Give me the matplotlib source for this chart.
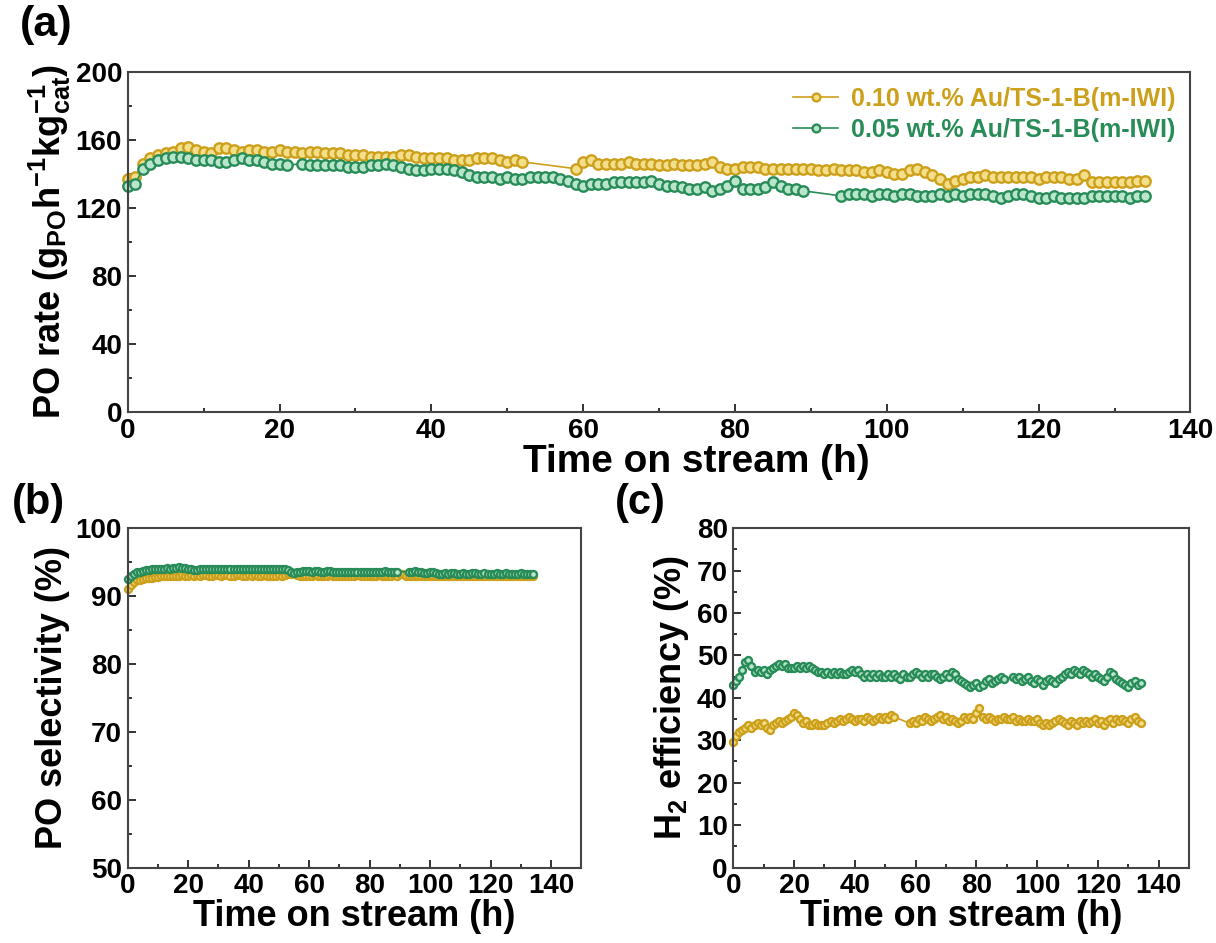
import matplotlib
matplotlib.use('agg')
import matplotlib.pyplot as plt
from matplotlib.ticker import MultipleLocator

plt.rcParams['font.family'] = ['Liberation Sans', 'DejaVu Sans']
plt.rcParams['font.weight'] = 'bold'
plt.rcParams['mathtext.fontset'] = 'custom'
plt.rcParams['mathtext.rm'] = 'Liberation Sans:bold'
plt.rcParams['mathtext.it'] = 'Liberation Sans:bold'
plt.rcParams['mathtext.bf'] = 'Liberation Sans:bold'

GOLD = '#CDA01C'
GOLD_FACE = '#F3DE8A'
GREEN = '#288C58'
GREEN_FACE = '#B9E6CB'

labels = ['0.10 wt.% Au/TS-1-B(m-IWI)', '0.05 wt.% Au/TS-1-B(m-IWI)']

# (a) PO rate, each segment: (start hour, values every hour)
rate_gold = [
    (0, [137, 138, 146, 149, 151, 152, 153, 155, 156, 154,
         153, 152, 155, 155, 154, 153, 154, 154, 153, 153,
         154, 153, 153, 152, 153, 153, 152, 152, 152, 151,
         151, 151, 150, 150, 150, 150, 151, 151, 150, 149,
         149, 149, 149, 148, 148, 148, 149, 149, 149, 148,
         147, 148, 147]),
    (59, [143, 147, 148, 146, 146, 146, 146, 147, 146, 146,
          146, 145, 145, 146, 145, 145, 145, 146, 147, 144,
          143, 143, 144, 144, 144, 143, 143, 143, 143, 143,
          143, 143, 142, 142, 143, 142, 142, 142, 141, 141,
          142, 141, 140, 140, 142, 143, 141, 139, 137, 134,
          136, 137, 138, 138, 139, 138, 138, 138, 138, 138,
          138, 137, 138, 138, 138, 137, 137, 139, 135, 135,
          135, 135, 135, 135, 136, 136]),
]
rate_green = [
    (0, [133, 134, 143, 146, 148, 149, 150, 150, 149, 148,
         148, 148, 147, 147, 148, 149, 148, 148, 147, 146,
         146, 145]),
    (23, [146, 145, 145, 145, 145, 145, 144, 144, 144, 145,
          145, 146, 145, 144, 143, 142, 142, 143, 143, 143,
          142, 141, 139, 138, 138, 138, 137, 138, 137, 137,
          138, 138, 138, 138, 137, 136, 134, 133, 134, 134,
          134, 135, 135, 135, 135, 135, 136, 134, 133, 133,
          132, 131, 131, 132, 130, 131, 133, 136, 131, 131,
          131, 132, 135, 133, 131, 131, 130]),
    (94, [127, 128, 128, 128, 127, 128, 128, 127, 128, 128,
          127, 127, 127, 128, 127, 128, 127, 128, 128, 128,
          127, 126, 127, 128, 128, 127, 126, 126, 127, 126,
          126, 126, 126, 127, 127, 127, 127, 127, 126, 127,
          127]),
]

# (b) PO selectivity
sel_gold = [
    (0, [91.0, 91.6, 92.0, 92.3, 92.4, 92.5, 92.6, 92.7, 92.7, 92.8,
         92.8, 92.9, 92.9, 92.9, 93.0, 93.0, 92.9, 93.0, 93.1, 93.0,
         93.0, 93.1, 93.0, 93.1, 93.0, 93.1, 93.1, 93.0, 93.0, 93.1,
         93.1, 93.0, 93.1, 93.1, 93.0, 93.0, 93.1, 93.1, 93.0, 93.0,
         93.1, 93.0, 93.1, 93.0, 93.0, 93.1, 93.0, 92.9, 93.0, 93.0,
         93.1, 93.0, 93.1, 93.2, 93.3, 93.4, 93.1, 92.9, 93.0, 93.0,
         93.0, 93.0, 93.1, 93.0, 92.9, 93.0, 93.0, 93.1, 93.0, 92.9,
         93.0, 93.0, 92.9, 93.0, 93.0, 93.0, 93.1, 93.0, 93.0, 92.9,
         93.0, 93.0, 93.0, 93.1, 93.0, 93.0, 93.0, 93.0, 93.1, 93.0,
         93.2, 93.3, 93.0, 92.9, 93.0, 93.0, 92.9, 93.0, 93.0, 92.9,
         93.0, 93.0, 92.9, 93.0, 92.9, 93.0, 93.0, 93.0, 92.9, 93.0,
         93.0, 92.9, 93.0, 93.0, 93.0, 92.9, 93.0, 93.0, 92.9, 93.0,
         93.0, 92.9, 93.0, 93.0, 93.0, 93.0, 92.9, 93.0, 93.0, 93.0,
         93.0, 92.9, 93.0, 93.0, 93.0]),
]
sel_green = [
    (0, [92.5, 93.0, 93.3, 93.5, 93.6, 93.7, 93.8, 93.8, 93.9, 93.9,
         94.0, 94.0, 94.0, 94.1, 94.0, 94.1, 94.1, 94.2, 94.1, 94.1,
         94.0, 93.9, 93.8, 93.8, 93.9, 93.9, 93.9, 94.0, 94.0, 93.9,
         94.0, 94.0, 94.0, 93.9, 94.0, 94.0, 94.0, 93.9, 94.0, 94.0,
         94.0, 93.9, 94.0, 94.0, 93.9, 94.0, 94.0, 94.0, 93.9, 94.0,
         94.0, 93.9, 93.9, 93.8, 93.6, 93.4, 93.5, 93.6, 93.7, 93.7,
         93.7, 93.6, 93.7, 93.7, 93.6, 93.6, 93.7, 93.7, 93.6, 93.6,
         93.6, 93.5, 93.6, 93.6, 93.5, 93.6, 93.6, 93.6, 93.5, 93.6,
         93.6, 93.6, 93.6, 93.6, 93.6, 93.7, 93.6, 93.6, 93.6, 93.6]),
    (93, [93.5, 93.6, 93.7, 93.6, 93.5, 93.4, 93.4, 93.5, 93.5, 93.4,
          93.3, 93.3, 93.4, 93.3, 93.4, 93.4, 93.3, 93.3, 93.4, 93.3,
          93.3, 93.4, 93.4, 93.3, 93.3, 93.4, 93.3, 93.3, 93.3, 93.4,
          93.3, 93.3, 93.4, 93.3, 93.3, 93.3, 93.3, 93.4, 93.3, 93.3,
          93.3, 93.2]),
]

# (c) H2 efficiency
eff_gold = [
    (0, [29.5, 31.0, 32.0, 32.5, 33.0, 33.5, 33.0, 33.5, 34.0, 33.5,
         34.0, 33.0, 32.5, 33.5, 34.0, 34.5, 34.0, 34.5, 35.0, 35.5,
         36.5, 36.0, 35.0, 34.0, 34.5, 33.5, 33.5, 34.0, 33.5, 33.5,
         33.5, 34.0, 34.5, 34.0, 34.5, 35.0, 34.5, 35.0, 35.5, 35.0,
         34.5, 35.0, 35.0, 34.5, 35.5, 35.0, 34.5, 35.0, 35.5, 35.0,
         35.5, 35.0, 36.0, 35.5]),
    (58, [34.0, 34.5, 34.0, 35.0, 34.5, 35.5, 35.0, 34.5, 35.0, 35.5,
          36.0, 35.0, 35.5, 34.5, 35.0, 34.5, 34.0, 34.5, 35.5, 35.0,
          35.5, 35.0, 36.5, 37.5, 35.5, 35.0, 35.5, 35.0, 34.5, 35.0,
          35.0, 35.5, 35.0, 35.0, 35.5, 34.5, 35.0, 34.5, 34.5, 35.0,
          34.5, 34.5, 35.0, 34.0, 33.5, 34.0, 33.5, 34.0, 34.5, 35.0,
          34.5, 34.0, 33.5, 34.5, 34.0, 33.5, 34.5, 34.0, 34.5, 34.0,
          34.5, 35.0, 34.0, 34.5, 33.5, 34.5, 35.0, 34.0, 35.0, 34.5,
          35.0, 34.5, 34.0, 35.0, 35.5, 34.5, 34.0]),
]
eff_green = [
    (0, [43.0, 44.0, 45.0, 46.5, 48.5, 49.0, 47.5, 46.0, 46.5, 46.0,
         46.5, 45.5, 46.5, 47.0, 47.5, 48.0, 47.5, 48.0, 47.0, 47.0,
         47.0, 47.5, 47.0, 47.5, 47.0, 47.5, 47.0, 46.5, 46.0, 46.0,
         45.5, 46.0, 45.5, 46.0, 45.5, 46.0, 45.5, 45.5, 46.0, 46.5,
         46.0, 46.5, 45.5, 45.0, 45.5, 45.0, 45.5, 45.0, 45.5, 45.0,
         45.0, 45.5, 45.0, 45.5, 45.0, 44.5, 45.5, 45.0, 45.0, 45.5,
         46.0, 45.5, 45.0, 45.5, 45.0, 45.5, 45.5, 45.0, 44.5, 45.0,
         45.5, 45.0, 46.0, 45.5, 44.5, 44.0, 43.5, 43.0, 42.5, 43.0,
         43.5, 42.5, 43.0, 44.0, 44.5, 43.5, 44.0, 44.5, 45.0, 44.5]),
    (92, [45.0, 44.5, 45.0, 44.0, 44.5, 45.0, 44.0, 43.5, 44.5, 44.0,
          43.0, 44.0, 44.5, 44.0, 43.5, 44.5, 45.0, 45.5, 46.0, 45.5,
          46.5, 46.0, 45.5, 46.5, 46.0, 45.5, 45.0, 45.5, 45.0, 44.5,
          44.0, 45.0, 46.0, 45.5, 44.5, 44.0, 43.5, 43.0, 42.5, 43.5,
          44.0, 43.0, 43.5]),
]


def unpack(segments):
    t, v = [], []
    for start, vals in segments:
        t += list(range(start, start + len(vals)))
        v += vals
    return t, v


def style_axis(ax, xlim, xmaj, ylim, ymaj, yminor, size):
    ax.set_xlim(*xlim)
    ax.set_ylim(*ylim)
    ax.xaxis.set_major_locator(MultipleLocator(xmaj))
    ax.xaxis.set_minor_locator(MultipleLocator(10))
    ax.yaxis.set_major_locator(MultipleLocator(ymaj))
    ax.yaxis.set_minor_locator(MultipleLocator(yminor))
    ax.tick_params(which='both', direction='in', top=False, right=False,
                   labelsize=size, width=1.3, colors='#222222')
    ax.tick_params(which='major', length=6, pad=4)
    ax.tick_params(which='minor', length=3)
    for lab in ax.get_xticklabels() + ax.get_yticklabels():
        lab.set_fontweight('bold')
        lab.set_color('black')
    for sp in ax.spines.values():
        sp.set_linewidth(1.5)
        sp.set_color('#444444')


def draw(ax, segs, color, face, ms, label=None):
    t, v = unpack(segs)
    ax.plot(t, v, '-', color=color, lw=1.2, marker='o', ms=ms,
            mfc=face, mec=color, mew=1.7, label=label, clip_on=False)


fig = plt.figure(figsize=(12.16, 9.43), dpi=100)
ax_a = fig.add_axes([0.105, 0.563, 0.874, 0.361])
ax_b = fig.add_axes([0.105, 0.080, 0.373, 0.360])
ax_c = fig.add_axes([0.603, 0.080, 0.375, 0.360])

# panel (a)
draw(ax_a, rate_gold, GOLD, GOLD_FACE, 7.5, labels[0])
draw(ax_a, rate_green, GREEN, GREEN_FACE, 7.5, labels[1])
style_axis(ax_a, (0, 140), 20, (0, 200), 40, 20, 20)
ax_a.set_xlabel('Time on stream (h)', fontsize=28, fontweight='bold', va='top')
ax_a.xaxis.set_label_coords(0.535, -0.095)
ax_a.set_ylabel(r'PO rate (g$_{\mathrm{PO}}$h$^{\mathrm{-1}}$kg$_{\mathrm{cat}}^{\mathrm{-1}}$)',
                fontsize=26, fontweight='bold', labelpad=2)
leg = ax_a.legend(loc='upper right', frameon=False, fontsize=18, handlelength=1.8,
                  handletextpad=0.5, borderaxespad=0.2, labelspacing=0.3,
                  markerscale=0.75)
for txt, col in zip(leg.get_texts(), [GOLD, GREEN]):
    txt.set_color(col)
    txt.set_fontweight('bold')

# panel (b)
draw(ax_b, sel_gold, GOLD, GOLD_FACE, 5)
draw(ax_b, sel_green, GREEN, GREEN_FACE, 5)
style_axis(ax_b, (0, 150), 20, (50, 100), 10, 5, 20)
ax_b.set_xlabel('Time on stream (h)', fontsize=26, fontweight='bold', labelpad=0)
ax_b.set_ylabel('PO selectivity (%)', fontsize=26, fontweight='bold', labelpad=4)

# panel (c)
draw(ax_c, eff_gold, GOLD, GOLD_FACE, 5)
draw(ax_c, eff_green, GREEN, GREEN_FACE, 5)
style_axis(ax_c, (0, 150), 20, (0, 80), 10, 5, 20)
ax_c.set_xlabel('Time on stream (h)', fontsize=26, fontweight='bold', labelpad=0)
ax_c.set_ylabel(r'H$_{\mathrm{2}}$ efficiency (%)', fontsize=26, fontweight='bold', labelpad=4)

fig.text(0.016, 0.995, '(a)', fontsize=31, fontweight='bold', va='top', ha='left')
fig.text(0.010, 0.488, '(b)', fontsize=30, fontweight='bold', va='top', ha='left')
fig.text(0.506, 0.488, '(c)', fontsize=30, fontweight='bold', va='top', ha='left')

fig.savefig('out.png', dpi=100)
